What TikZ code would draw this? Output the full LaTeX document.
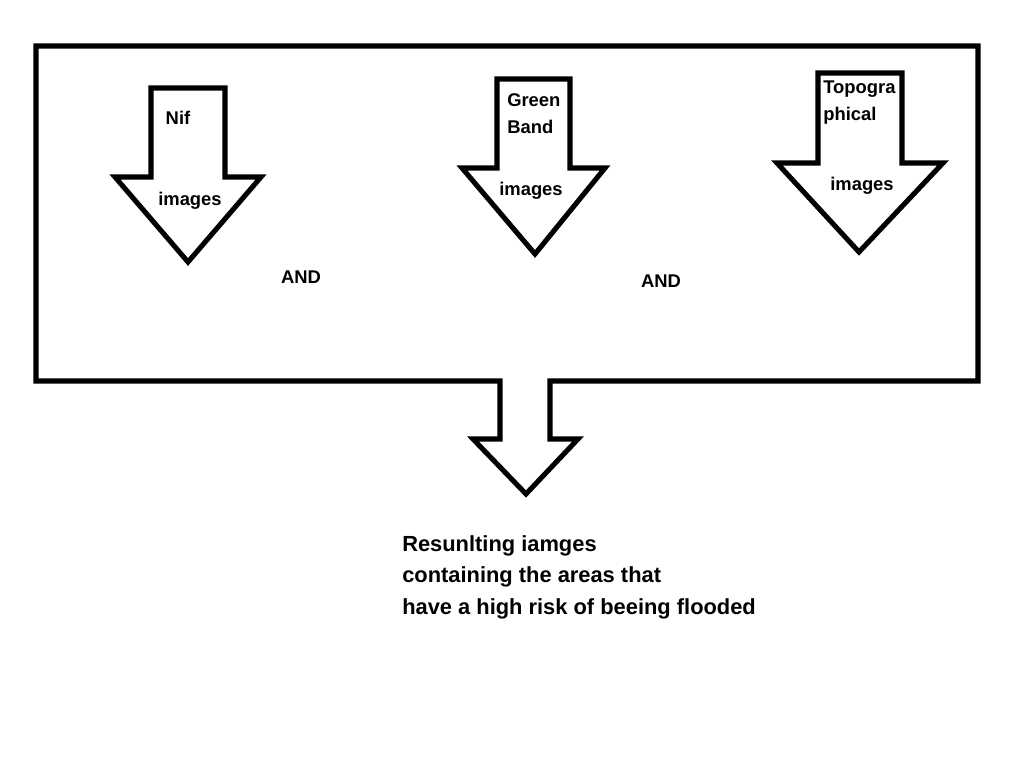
\documentclass[tikz,border=0pt]{standalone}
\usepackage{fontspec}
\setmainfont{Liberation Sans}
\usetikzlibrary{positioning}

\begin{document}
\begin{tikzpicture}[
      x=0.75pt, y=-0.75pt,
      outline/.style={draw=black, line width=3.8pt, line join=miter, fill=white},
      label/.style={font=\fontsize{13.8}{20.3}\selectfont\bfseries, inner sep=0pt, align=left},
      result/.style={font=\fontsize{16.4}{23.6}\selectfont\bfseries, inner sep=0pt, align=left}
    ]
      \useasboundingbox (0,0) rectangle (1022,775);
      % frame with the output arrow
      \draw[outline] (36,46) -- (978,46) -- (978,381) -- (550,381) -- (550,439)
        -- (578,439) -- (526,494) -- (473,439) -- (500,439) -- (500,381)
        -- (36,381) -- cycle;
      % input arrows
      \draw[outline] (151,88) -- (225,88) -- (225,177) -- (261,177) -- (188,262)
        -- (115,177) -- (151,177) -- cycle;
      \draw[outline] (497,79) -- (570,79) -- (570,168) -- (605,168) -- (535,254)
        -- (462,168) -- (497,168) -- cycle;
      \draw[outline] (818,73) -- (902,73) -- (902,163) -- (943,163) -- (859,252)
        -- (777,163) -- (818,163) -- cycle;
      % texts
      \node[label] (nif) at (178,118) {Nif};
      \node[label] (nifimg) at (190,201) {images};
      \node[label, anchor=west] (green) at (507,113.5) {Green\\Band};
      \node[label] (greenimg) at (531,191) {images};
      \node[label, anchor=west] (topo) at (823,102.5) {Topogra\\phical};
      \node[label] (topoimg) at (862,186) {images};
      \node[label] (and1) at (301,277) {AND};
      \node[label] (and2) at (661,281) {AND};
      \node[result, anchor=west] (out) at (402,577) {Resunlting iamges\\containing the areas that\\have a high risk of beeing flooded};
    \end{tikzpicture}
\end{document}
